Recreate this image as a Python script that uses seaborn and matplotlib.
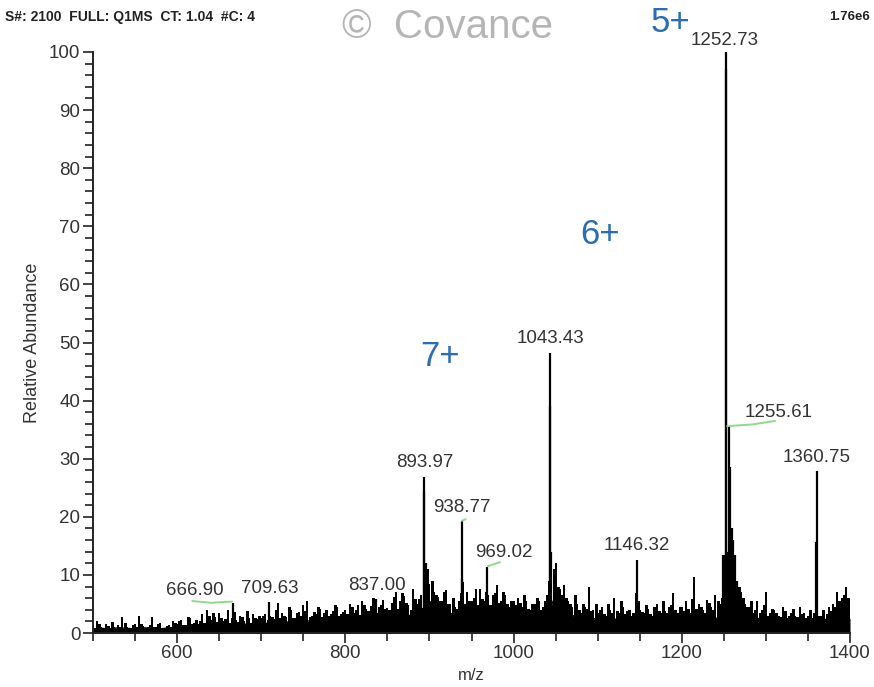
import numpy as np
import pandas as pd
import matplotlib
matplotlib.use("Agg")
import matplotlib.pyplot as plt
from matplotlib.ticker import MultipleLocator
import seaborn as sns

# ---------------- data ----------------
# noise sticks, sampled every 5 m/z from 500 to 1400
noise_start, noise_step = 500, 5
noise_int = [
    1.2, 2.0, 1.0, 1.6, 0.8, 1.0, 1.3, 2.8, 1.0, 0.9, 1.5, 2.9, 1.2, 1.0, 2.8, 1.1, 1.8, 0.9, 1.4, 2.0,
    1.6, 2.2, 1.3, 2.5, 1.8, 1.5, 3.2, 4.0, 2.2, 2.8, 3.5, 2.0, 4.0, 2.5, 2.2, 3.0, 2.0, 2.6, 3.3, 2.4,
    2.5, 3.2, 3.0, 2.4, 5.2, 3.5, 2.8, 4.0, 2.5, 3.6, 4.8, 5.5, 3.0, 3.2, 4.1, 3.4, 3.0, 3.8, 4.5, 3.2,
    4.0, 5.0, 3.5, 4.8, 5.5, 4.2, 4.6, 5.0, 4.5, 5.6, 4.3, 5.2, 7.0, 5.5, 6.3, 4.8, 7.5, 5.0, 6.5, 9.5,
    8.5, 7.0, 6.2, 5.5, 7.4, 5.0, 4.5, 5.5, 8.8, 7.0, 5.5, 7.5, 7.6, 5.5, 6.5, 6.5, 8.3, 5.5, 6.5, 4.5,
    5.5, 6.0, 4.5, 5.5, 4.0, 5.0, 5.5, 4.5, 6.5, 9.5, 12.0, 7.5, 8.3, 5.5, 4.5, 5.0, 3.5, 4.5, 8.0, 4.0,
    3.5, 4.5, 3.0, 4.0, 6.0, 3.5, 4.5, 3.8, 3.0, 6.8, 4.0, 3.5, 4.2, 3.0, 5.0, 3.5, 3.8, 4.5, 6.8, 3.5,
    4.5, 5.5, 3.5, 9.7, 5.0, 4.0, 5.7, 4.5, 6.5, 5.0, 13.4, 8.0, 10.0, 9.0, 7.0, 5.0, 4.5, 3.5, 5.5, 4.0,
    7.0, 3.5, 4.0, 3.0, 4.5, 2.5, 3.5, 3.0, 4.5, 3.5, 3.0, 2.5, 5.0, 3.0, 2.0, 4.5, 5.0, 7.0, 6.0, 8.0,
    5.0,
]
# second noise set, sampled every 5 m/z from 502.5 to 1397.5
noise2_start, noise2_step = 502.5, 5
noise2_int = [
    0.8, 1.5, 0.6, 1.2, 1.9, 0.7, 1.0, 1.7, 0.8, 1.3, 1.0, 1.6, 0.9, 1.4, 1.0, 1.5, 0.8, 1.2, 1.0, 1.8,
    2.0, 1.4, 2.8, 1.6, 2.3, 2.0, 1.8, 2.9, 3.4, 1.9, 2.6, 2.4, 1.8, 3.6, 1.9, 2.8, 3.8, 1.8, 2.5, 2.9,
    3.0, 2.2, 2.8, 3.9, 2.6, 3.0, 4.5, 2.6, 3.4, 2.9, 3.8, 2.7, 3.6, 4.4, 2.8, 3.9, 3.2, 4.8, 2.9, 3.6,
    3.2, 4.4, 3.9, 3.1, 4.8, 3.8, 6.0, 3.5, 4.9, 4.1, 3.9, 6.2, 4.1, 6.8, 5.2, 3.9, 5.9, 5.8, 4.3, 11.0,
    9.0, 6.5, 5.5, 7.0, 5.0, 6.0, 4.2, 6.8, 5.0, 5.5, 6.0, 4.8, 5.8, 7.0, 4.8, 6.8, 5.2, 7.0, 5.0, 5.5,
    4.8, 5.2, 6.5, 4.2, 5.0, 6.0, 4.0, 5.5, 9.0, 11.0, 8.0, 6.5, 6.0, 5.0, 6.5, 4.0, 5.0, 4.2, 3.8, 5.0,
    4.0, 3.2, 5.0, 3.5, 3.8, 5.5, 3.2, 4.0, 3.5, 5.5, 3.6, 4.8, 3.2, 4.5, 3.8, 5.5, 3.4, 4.8, 3.9, 4.5,
    3.8, 4.2, 5.8, 4.2, 4.5, 3.5, 5.2, 4.0, 5.5, 6.0, 14.0, 18.0, 12.0, 8.0, 6.0, 4.5, 5.5, 4.0, 3.5, 4.8,
    3.0, 4.2, 3.5, 2.8, 3.8, 3.0, 4.2, 2.7, 3.2, 2.5, 4.0, 3.5, 3.0, 4.0, 3.2, 3.8, 4.5, 5.5, 6.5, 6.0,
]
# dense baseline envelope, sampled every 10 m/z from 500 to 1400
floor_start, floor_step = 500, 10
floor_int = [
    0.6, 0.8, 0.7, 0.9, 0.8, 0.7, 0.9, 0.8, 0.7, 0.9,
    0.9, 1.0, 1.1, 1.2, 1.3, 1.5, 1.6, 1.4, 1.5, 1.6,
    1.6, 1.7, 1.8, 1.9, 1.8, 2.0, 2.1, 1.9, 2.2, 2.3,
    2.3, 2.5, 2.4, 2.6, 2.8, 2.7, 3.0, 2.9, 3.1, 3.3,
    5.5, 4.0, 3.5, 3.2, 3.0, 3.2, 3.0, 3.3, 3.0, 2.9,
    2.8, 2.9, 2.7, 2.8, 3.0, 6.5, 4.0, 3.0, 2.6, 2.5,
    2.4, 2.3, 2.4, 2.2, 2.5, 2.3, 2.4, 2.3, 2.6, 2.5,
    2.5, 2.6, 2.4, 2.6, 2.5, 2.7, 10.0, 5.0, 3.0, 2.5,
    2.3, 2.2, 2.1, 2.0, 2.0, 1.9, 2.0, 2.3, 2.5, 2.8,
    2.5,
]
# labelled peaks
peak_mz = [666.90, 709.63, 837.00, 893.97, 938.77, 969.02, 1043.43, 1146.32, 1252.73, 1255.61, 1360.75]
peak_int = [5.2, 5.3, 5.8, 26.9, 19.2, 11.4, 48.2, 12.6, 100.0, 35.7, 27.8]
peak_labels = ["666.90", "709.63", "837.00", "893.97", "938.77", "969.02",
               "1043.43", "1146.32", "1252.73", "1255.61", "1360.75"]
# unlabelled shoulder / isotope peaks
extra_mz = [893.4, 895.5, 938.2, 1042.8, 1044.6, 1249.5, 1252.2, 1257.3, 1259.4, 1261.3, 1263.4, 1266.0, 1359.9]
extra_int = [24.4, 12.0, 9.3, 39.0, 14.0, 13.4, 97.0, 28.5, 18.0, 16.0, 13.5, 9.0, 15.7]
charge_labels = ["5+", "6+", "7+"]

# ---------------- figure ----------------
sns.set_style("ticks")
plt.rcParams["font.family"] = ["Liberation Sans", "DejaVu Sans"]

W, H = 874, 687
fig = plt.figure(figsize=(W / 100, H / 100), dpi=100)
ax = fig.add_axes([93 / W, 1 - 633 / H, (850 - 93) / W, (633 - 52) / H])

noise_mz = noise_start + noise_step * np.arange(len(noise_int))
noise2_mz = noise2_start + noise2_step * np.arange(len(noise2_int))
floor_mz = floor_start + floor_step * np.arange(len(floor_int))
floor_df = pd.DataFrame({"mz": floor_mz, "int": floor_int})

ax.fill_between(floor_df["mz"], 0, floor_df["int"], color="black", lw=0)
sns.lineplot(data=floor_df, x="mz", y="int", color="black", lw=1.0, ax=ax)
ax.vlines(noise2_mz, 0, noise2_int, color="black", lw=1.0, antialiased=False)
ax.vlines(noise_mz, 0, noise_int, color="black", lw=1.2, antialiased=False)
ax.vlines(extra_mz, 0, extra_int, color="black", lw=1.6)
ax.vlines(peak_mz, 0, peak_int, color="black", lw=1.6)

ax.set_xlim(500, 1400)
ax.set_ylim(0, 100)

label_fs = 13.5
offsets = {"969.02": (12, 4), "666.90": (-28, 3), "1255.61": (36, 3), "1252.73": (-1, 2)}
for mz, it, lab in zip(peak_mz, peak_int, peak_labels):
    dx, dy = offsets.get(lab, (0, 4))
    ax.annotate(lab, (mz, it), xytext=(dx, dy), textcoords="offset points",
                ha="center", va="bottom", fontsize=label_fs, color="#333333")

green = "#8fd88f"
ax.plot([1254.0, 1284.0, 1311.0], [35.6, 35.9, 36.5], color=green, lw=1.4)
ax.plot([618.0, 640.0, 665.5], [5.5, 5.2, 5.4], color=green, lw=1.4)
ax.plot([969.5, 984.0], [11.5, 12.2], color=green, lw=1.4)
ax.plot([938.6, 943.0], [19.3, 19.6], color=green, lw=1.4)

ax.xaxis.set_major_locator(MultipleLocator(200))
ax.xaxis.set_minor_locator(MultipleLocator(50))
ax.yaxis.set_major_locator(MultipleLocator(10))
ax.yaxis.set_minor_locator(MultipleLocator(2))
ax.set_xticks([600, 800, 1000, 1200, 1400])
ax.tick_params(axis="both", which="both", direction="out", color="#222222",
               labelsize=label_fs, labelcolor="#333333", width=1.2)
ax.tick_params(axis="both", which="major", length=7, pad=2)
ax.tick_params(axis="both", which="minor", length=6)
for s in ["top", "right"]:
    ax.spines[s].set_visible(False)
for s in ["left", "bottom"]:
    ax.spines[s].set_linewidth(1.4)
    ax.spines[s].set_color("#222222")

ax.set_xlabel("m/z", fontsize=12, color="#333333", labelpad=4)
ax.set_ylabel("Relative Abundance", fontsize=13, color="#333333", labelpad=6)

# header texts
fig.text(5 / W, 1 - 17 / H, "S#: 2100  FULL: Q1MS  CT: 1.04  #C: 4", fontsize=10,
         fontweight="bold", color="#222222", va="center", ha="left")
fig.text(870 / W, 1 - 17 / H, "1.76e6", fontsize=9.5, fontweight="bold",
         color="#222222", va="center", ha="right")
fig.text(448 / W, 1 - 27 / H, "©  Covance", fontsize=29, color="#b5b5b5",
         va="center", ha="center")

blue = "#2a6db5"
for lab, (px, py) in zip(charge_labels, [(670, 22), (600, 235), (440, 357)]):
    fig.text(px / W, 1 - py / H, lab, fontsize=25, color=blue, va="center", ha="center")

fig.savefig("out.png", dpi=100)
